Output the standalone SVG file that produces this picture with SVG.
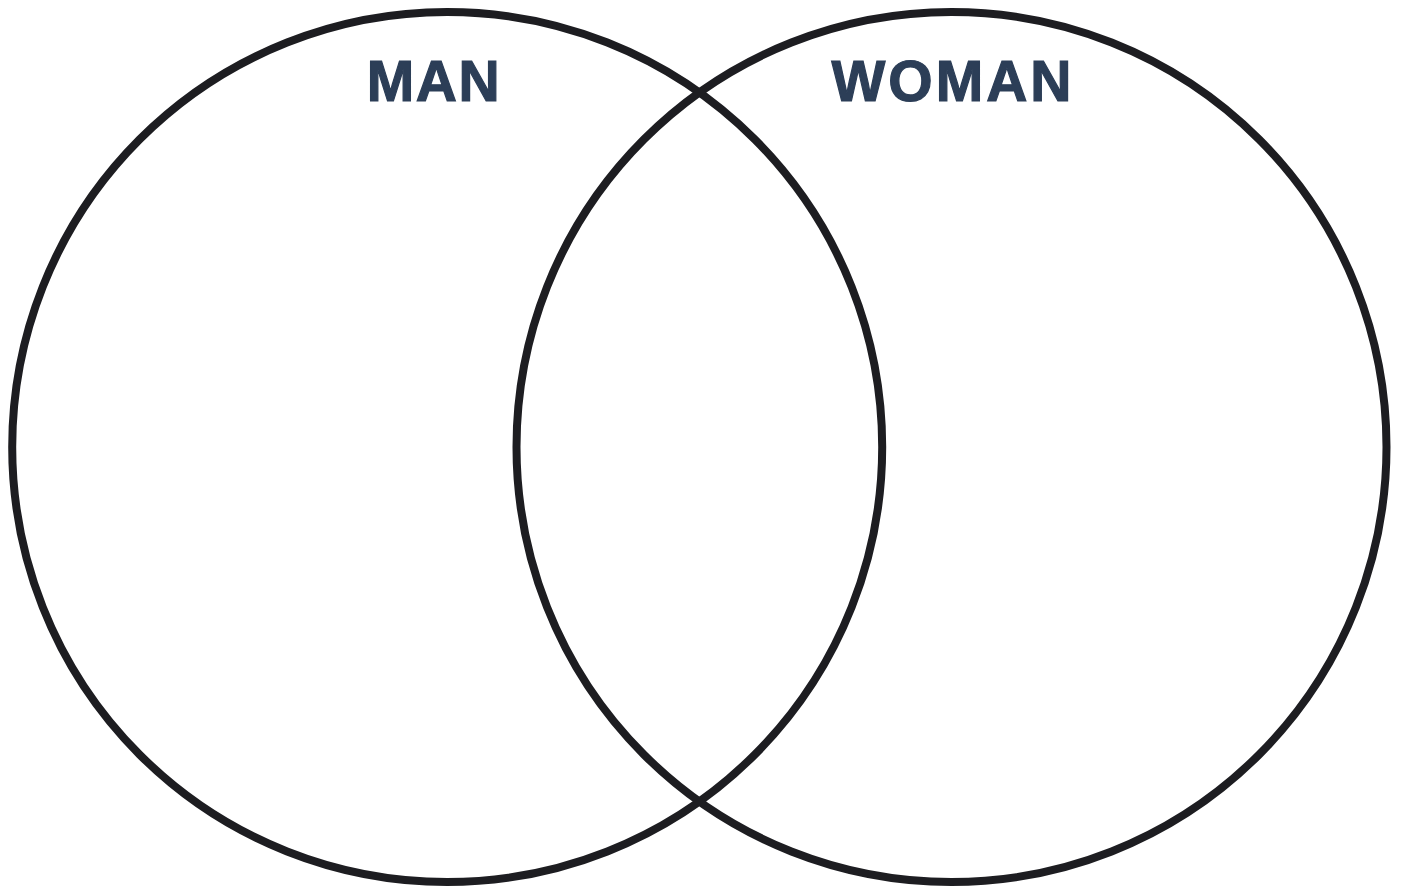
<svg xmlns="http://www.w3.org/2000/svg" width="1402" height="888" viewBox="0 0 1402 888">
<style>
.ring{fill:none;stroke:#1d1d21;stroke-width:8}
.lbl{font-family:"Liberation Sans",Arial,sans-serif;font-weight:bold;font-size:57px;fill:#2c3e57;stroke:#2c3e57;stroke-width:1.2;text-anchor:middle}
</style>
<rect width="1402" height="888" fill="#ffffff"/>
<g id="man">
<circle class="ring" cx="447.2" cy="447" r="435"/>
<text class="lbl" x="434" y="100.5" letter-spacing="1.5">MAN</text>
</g>
<g id="woman">
<circle class="ring" cx="951.5" cy="447" r="435"/>
<text class="lbl" x="953" y="100.5" letter-spacing="3">WOMAN</text>
</g>
<g id="connectors"></g>
</svg>
